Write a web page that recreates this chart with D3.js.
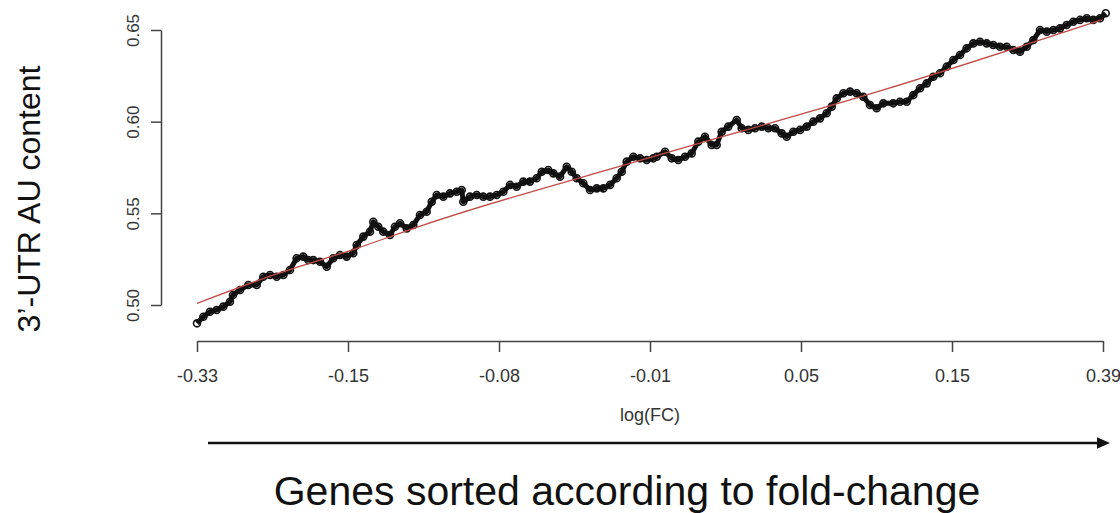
<!DOCTYPE html>
<html>

<head>
  <meta charset="UTF-8" />
  <title>3'-UTR AU content vs fold-change</title>
  <style>
    body {
      margin: 0;
      background: white;
      font-family: "Liberation Sans", Arial, Helvetica, sans-serif;
    }

    .axis path,
    .axis line {
      stroke: #444;
      stroke-width: 1.5;
    }

    .axis text {
      fill: #333;
      font-family: "Liberation Sans", Arial, sans-serif;
    }
  </style>
  <script src="https://d3js.org/d3.v7.min.js"></script>
</head>

<body>
  <script>
    /* Genes ranked by fold-change, in percent of the ranking */
    let rankPct = [0, 0.7, 1.43, 2.17, 2.9, 3.64, 3.97, 4.75, 5.66, 6.59, 7.32, 8.06, 8.8, 9.53, 10.26, 11.0, 11.73,
      12.28, 12.84, 13.58, 14.32, 15.04, 15.78, 16.52, 17.25, 17.63, 18.36, 19.09, 19.46, 20.01, 20.56, 21.3, 21.85,
      22.41, 23.15, 23.87, 24.61, 25.35, 25.91, 26.46, 27.19, 27.92, 28.66, 29.22, 29.39, 30.13, 30.87, 31.6, 32.34,
      33.08, 33.81, 34.55, 35.29, 36.02, 36.75, 37.49, 38.05, 38.77, 39.33, 40.07, 40.81, 41.36, 41.91, 42.64, 43.38,
      44.12, 44.85, 45.59, 46.32, 46.88, 47.43, 48.16, 48.9, 49.64, 50.36, 50.74, 51.66, 52.4, 53.12, 53.86, 54.6,
      55.33, 56.07, 56.81, 57.36, 57.91, 58.64, 59.57, 60.12, 60.85, 61.59, 62.33, 63.06, 63.8, 64.54, 65.09, 65.82,
      66.56, 67.3, 68.02, 68.76, 69.5, 70.06, 70.61, 71.34, 72.08, 72.81, 73.54, 74.28, 75.02, 75.75, 76.85, 77.59,
      78.33, 79.06, 79.8, 80.54, 81.27, 82.01, 82.75, 83.48, 84.22, 84.95, 85.69, 86.42, 87.16, 87.89, 88.63, 89.37,
      90.1, 90.84, 91.58, 92.31, 93.05, 93.79, 94.52, 95.25, 95.99, 96.72, 97.46, 98.2, 98.93, 99.67, 100.3];

    /* Running 3'-UTR AU content */
    let auContent = [0.490, 0.4936, 0.4963, 0.4973, 0.4991, 0.5018, 0.5055, 0.5082, 0.5109, 0.5109, 0.5154, 0.5164,
      0.5154, 0.5164, 0.5191, 0.5255, 0.5264, 0.5245, 0.5245, 0.5236, 0.5209, 0.5255, 0.5273, 0.5264, 0.5282, 0.5327,
      0.5373, 0.5400, 0.5454, 0.5427, 0.5400, 0.5382, 0.5427, 0.5446, 0.5418, 0.5436, 0.5491, 0.5509, 0.5563, 0.5600,
      0.5591, 0.5609, 0.5618, 0.5627, 0.5563, 0.5591, 0.5600, 0.5591, 0.5591, 0.5600, 0.5618, 0.5655, 0.5645, 0.5673,
      0.5673, 0.5691, 0.5727, 0.5736, 0.5718, 0.5700, 0.5754, 0.5727, 0.5691, 0.5664, 0.5627, 0.5636, 0.5636, 0.5655,
      0.5691, 0.5727, 0.5782, 0.5809, 0.5800, 0.5791, 0.5800, 0.5809, 0.5836, 0.5800, 0.5791, 0.5809, 0.5827, 0.5891,
      0.5918, 0.5873, 0.5873, 0.5945, 0.5973, 0.6009, 0.5964, 0.5955, 0.5964, 0.5973, 0.5964, 0.5964, 0.5936, 0.5918,
      0.5945, 0.5955, 0.5973, 0.6000, 0.6018, 0.6046, 0.6082, 0.6127, 0.6155, 0.6164, 0.6155, 0.6136, 0.6091, 0.6073,
      0.6100, 0.6100, 0.6109, 0.6109, 0.6145, 0.6182, 0.6209, 0.6245, 0.6264, 0.6300, 0.6336, 0.6364, 0.6400, 0.6427,
      0.6436, 0.6427, 0.6418, 0.6409, 0.6409, 0.6391, 0.6382, 0.6409, 0.6445, 0.6500, 0.6491, 0.6500, 0.6509, 0.6527,
      0.6545, 0.6555, 0.6564, 0.6555, 0.6564, 0.6591];

    /* Smoothed fit (red line) */
    let fitPct = [0, 8.46, 17.63, 24.98, 50.36, 75.75, 99.86];
    let fitAU = [0.5009, 0.5164, 0.5309, 0.5436, 0.5809, 0.6173, 0.6555];

    /* Axis labels */
    let xTickLabels = ["-0.33", "-0.15", "-0.08", "-0.01", "0.05", "0.15", "0.39"];
    let yTicks = [0.50, 0.55, 0.60, 0.65];

    let width = 1120,
      height = 513,
      plot = { left: 197, right: 1103, top: 30, bottom: 305 },
      xAxisY = 341,
      yAxisX = 161;

    let svg = d3.select("body")
      .append("svg")
      .attr("width", width)
      .attr("height", height);

    let xScale = d3.scaleLinear()
      .domain([0, 100])
      .range([plot.left, plot.right]);

    let yScale = d3.scaleLinear()
      .domain([0.50, 0.65])
      .range([plot.bottom, plot.top]);

    /* X axis: equally spaced quantiles of log(FC) */
    let xTickPos = xTickLabels.map((d, i) => i * 100 / (xTickLabels.length - 1));
    let xAxis = svg.append("g")
      .attr("class", "axis")
      .attr("transform", `translate(0,${xAxisY})`)
      .call(d3.axisBottom(xScale)
        .tickValues(xTickPos)
        .tickFormat((d, i) => xTickLabels[i])
        .tickSizeInner(11)
        .tickSizeOuter(0));
    xAxis.selectAll("text")
      .attr("y", 41)
      .attr("dy", 0)
      .style("font-size", "18px");

    /* Y axis with rotated labels */
    let yAxis = svg.append("g")
      .attr("class", "axis")
      .attr("transform", `translate(${yAxisX},0)`)
      .call(d3.axisLeft(yScale)
        .tickValues(yTicks)
        .tickFormat(d3.format(".2f"))
        .tickSizeInner(10)
        .tickSizeOuter(0));
    yAxis.selectAll("text")
      .attr("x", 0)
      .attr("y", -22)
      .attr("dy", 0)
      .attr("transform", "rotate(-90)")
      .attr("text-anchor", "middle")
      .style("font-size", "17px");

    /* Data points (dense open circles) */
    let pts = rankPct.map((d, i) => [d, auContent[i]]);

    svg.append("path")
      .datum(pts)
      .attr("fill", "none")
      .attr("stroke", "#111")
      .attr("stroke-width", 5)
      .attr("stroke-linejoin", "round")
      .attr("d", d3.line().x(d => xScale(d[0])).y(d => yScale(d[1])));

    svg.append("g")
      .selectAll("circle")
      .data(pts)
      .enter()
      .append("circle")
      .attr("cx", d => xScale(d[0]))
      .attr("cy", d => yScale(d[1]))
      .attr("r", 3.5)
      .attr("fill", "none")
      .attr("stroke", "#111")
      .attr("stroke-width", 1.6);

    /* Red fit line */
    svg.append("path")
      .datum(fitPct.map((d, i) => [d, fitAU[i]]))
      .attr("fill", "none")
      .attr("stroke", "#c24a45")
      .attr("stroke-width", 1.3)
      .attr("d", d3.line().curve(d3.curveMonotoneX).x(d => xScale(d[0])).y(d => yScale(d[1])));

    /* Axis titles */
    svg.append("text")
      .attr("x", (plot.left + plot.right) / 2)
      .attr("y", 421)
      .attr("text-anchor", "middle")
      .style("font-size", "18px")
      .attr("fill", "#333")
      .text("log(FC)");

    svg.append("text")
      .attr("transform", "translate(40,199) rotate(-90)")
      .attr("text-anchor", "middle")
      .style("font-size", "32px")
      .attr("fill", "#111")
      .text("3’-UTR AU content");

    /* Arrow */
    svg.append("defs")
      .append("marker")
      .attr("id", "head")
      .attr("viewBox", "0 0 10 10")
      .attr("refX", 0)
      .attr("refY", 5)
      .attr("markerUnits", "userSpaceOnUse")
      .attr("markerWidth", 13)
      .attr("markerHeight", 13)
      .attr("orient", "auto")
      .append("path")
      .attr("d", "M0,0.5L10,5L0,9.5Z")
      .attr("fill", "#111");

    svg.append("line")
      .attr("x1", 208)
      .attr("x2", 1097)
      .attr("y1", 443)
      .attr("y2", 443)
      .attr("stroke", "#111")
      .attr("stroke-width", 2.5)
      .attr("marker-end", "url(#head)");

    svg.append("text")
      .attr("x", 627)
      .attr("y", 505)
      .attr("text-anchor", "middle")
      .style("font-size", "41px")
      .attr("fill", "#111")
      .text("Genes sorted according to fold-change");
  </script>
</body>

</html>
